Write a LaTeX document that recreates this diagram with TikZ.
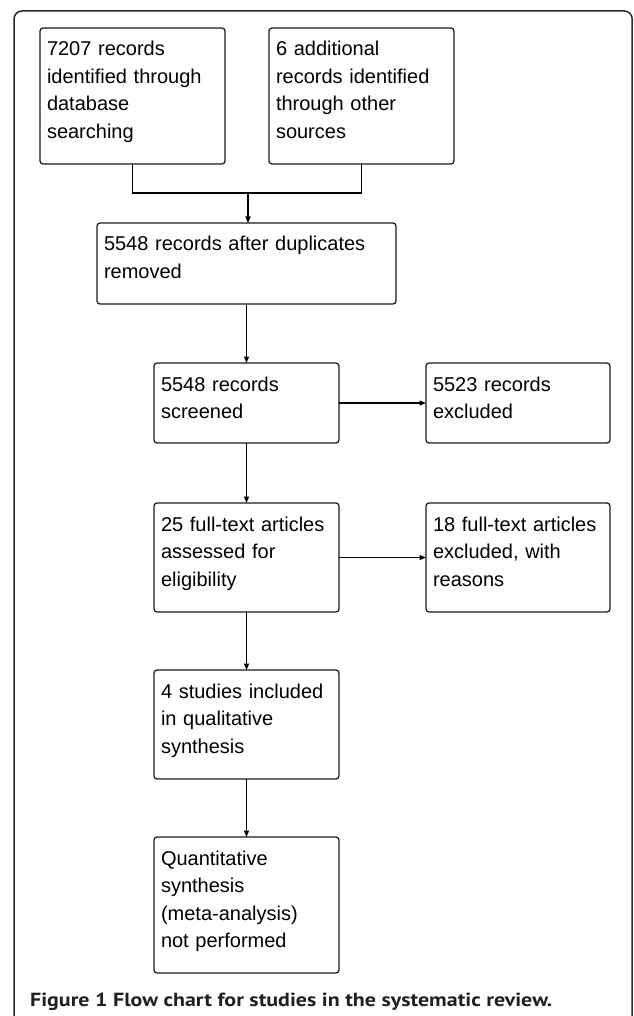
\documentclass[tikz,border=0pt]{standalone}
\usepackage{fontspec}
\usepackage{graphicx}
\setmainfont{Liberation Sans}
\newfontfamily\capfont{PT Sans}
\usetikzlibrary{arrows.meta}
\definecolor{linegray}{HTML}{1A1A1A}
\definecolor{framegray}{HTML}{2A2A2A}
\definecolor{capgray}{HTML}{231F20}
\begin{document}
\begin{tikzpicture}[x=1pt,y=-1pt,
  fbox/.style={draw=linegray, line width=1.25pt, rounded corners=3pt,
    anchor=north west, outer sep=0pt, inner xsep=7pt, inner ysep=0pt,
    text height=28pt, align=left,
    font=\fontsize{20}{27.5}\selectfont},
  conn/.style={draw=black, line width=1.35pt},
  arr/.style={conn, -{Triangle[length=6.5pt,width=5pt]}},
  frame/.style={draw=framegray, line width=1.5pt, rounded corners=8pt}]
\useasboundingbox (0,0) rectangle (633,1016);
\draw[frame] (14,11) rectangle (632.2,1030);

\node[fbox, text width=171pt, text depth=108pt] (b1) at (40,28)
  {7207 records\\identified through\\database\\searching};
\node[fbox, text width=171pt, text depth=108pt] (b2) at (269,28)
  {6 additional\\records identified\\through other\\sources};
\node[fbox, text width=285pt, text depth=53pt] (b3) at (97,223)
  {5548 records after duplicates\\removed};
\node[fbox, text width=171pt, text depth=52pt] (b4) at (154,363)
  {5548 records\\screened};
\node[fbox, text width=170pt, text depth=52pt] (b5) at (426,363)
  {5523 records\\excluded};
\node[fbox, text width=171pt, text depth=81pt] (b6) at (154,503)
  {25 full-text articles\\assessed for\\eligibility};
\node[fbox, text width=170pt, text depth=81pt] (b7) at (426,503)
  {18 full-text articles\\excluded, with\\reasons};
\node[fbox, text width=171pt, text depth=81pt] (b8) at (154,670)
  {4 studies included\\in qualitative\\synthesis};
\node[fbox, text width=171pt, text depth=108pt] (b9) at (154,837)
  {Quantitative\\synthesis\\(meta-analysis)\\not performed};

\coordinate (j) at (248,193);
\draw[conn] (b1.south) |- (j) -| (b2.south);
\draw[arr] (j) -- (j |- b3.north);
\draw[arr] (b3.south) -- (b4.north);
\draw[arr] (b4.east) -- (b5.west);
\draw[arr] (b4.south) -- (b6.north);
\draw[arr] (b6.east) -- (b7.west);
\draw[arr] (b6.south) -- (b8.north);
\draw[arr] (b8.south) -- (b9.north);

\node[anchor=base west, inner sep=0pt, text=capgray] (cap) at (30,1006)
  {\resizebox{522pt}{\height}{\capfont\bfseries\fontsize{19}{19}\selectfont Figure 1 Flow chart for studies in the systematic review.}};
\end{tikzpicture}
\end{document}
